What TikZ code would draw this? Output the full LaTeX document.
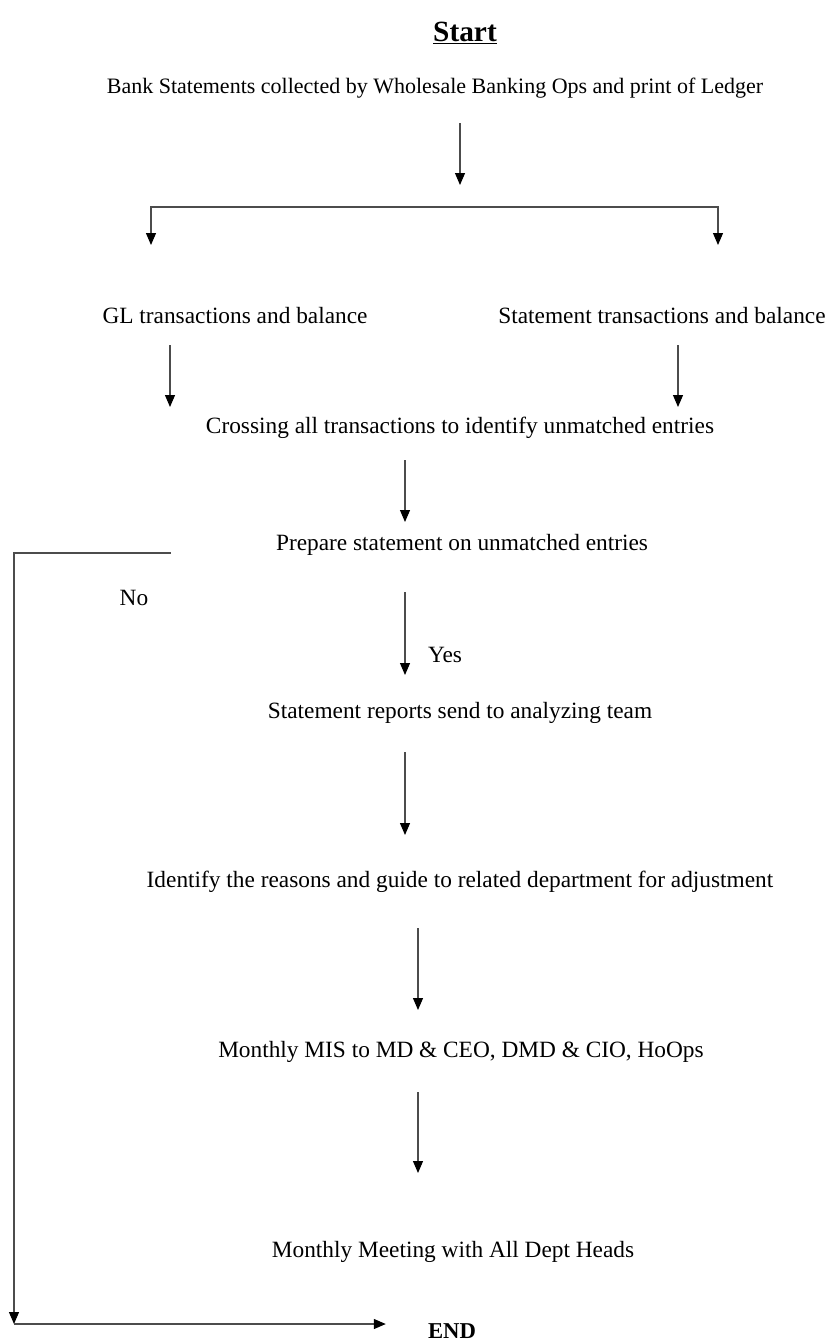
\documentclass[tikz,border=0pt]{standalone}
\usepackage{fontspec}
\setmainfont{Liberation Serif}
\usetikzlibrary{arrows.meta,positioning,calc}

\begin{document}
\begin{tikzpicture}[x=0.75pt, y=-0.75pt,
  txt/.style={inner sep=0pt, font=\fontsize{17.5}{20}\selectfont},
  arr/.style={-{Triangle[width=7.5pt, length=9pt, color=black]}, line width=0.8pt, black!70},
  ln/.style={line width=0.8pt, black!70}
]
  \useasboundingbox (0,0) rectangle (831,1343);

  \node[txt, font=\fontsize{22}{26}\selectfont\bfseries] (start) at (465,33) {\underline{Start}};
  \node[txt, font=\fontsize{16.5}{19}\selectfont] (bank) at (435,88) {Bank Statements collected by Wholesale Banking Ops and print of Ledger};
  \node[txt] (gl) at (235,316) {GL transactions and balance};
  \node[txt] (stmt) at (662,316) {Statement transactions and balance};
  \node[txt] (cross) at (460,428) {Crossing all transactions to identify unmatched entries};
  \node[txt] (prep) at (462,545) {Prepare statement on unmatched entries};
  \node[txt] (no) at (134,598) {No};
  \node[txt] (yes) at (445,655) {Yes};
  \node[txt] (rep) at (460,713) {Statement reports send to analyzing team};
  \node[txt] (ident) at (460,882) {Identify the reasons and guide to related department for adjustment};
  \node[txt] (mis) at (461,1052) {Monthly MIS to MD \& CEO, DMD \& CIO, HoOps};
  \node[txt] (meet) at (453,1252) {Monthly Meeting with All Dept Heads};
  \node[txt, font=\fontsize{17}{20}\selectfont\bfseries] (endn) at (452,1331) {END};

  % split below the first step
  \coordinate (split) at (460,207);
  \draw[arr] (bank) ++(25,35) -- ++(0,62);
  \draw[ln] (151,207) -- (718,207);
  \draw[arr] (split) -| (151,245);
  \draw[arr] (split) -| (718,245);

  \draw[arr] (gl) ++(-65,29) -- ++(0,62);
  \draw[arr] (stmt) ++(16,29) -- ++(0,62);
  \draw[arr] (cross) ++(-55,32) -- ++(0,62);
  \draw[arr] (prep) ++(-57,47) -- ++(0,83);
  \draw[arr] (rep) ++(-55,39) -- ++(0,83);
  \draw[arr] (ident) ++(-42,46) -- ++(0,82);
  \draw[arr] (mis) ++(-43,40) -- ++(0,81);

  % the No branch
  \coordinate (corner) at (14,1324);
  \draw[arr] (prep.west) ++(-105,8) -| (corner);
  \draw[arr] (corner) -- ([xshift=-31.5pt]endn.west |- corner);
\end{tikzpicture}
\end{document}
